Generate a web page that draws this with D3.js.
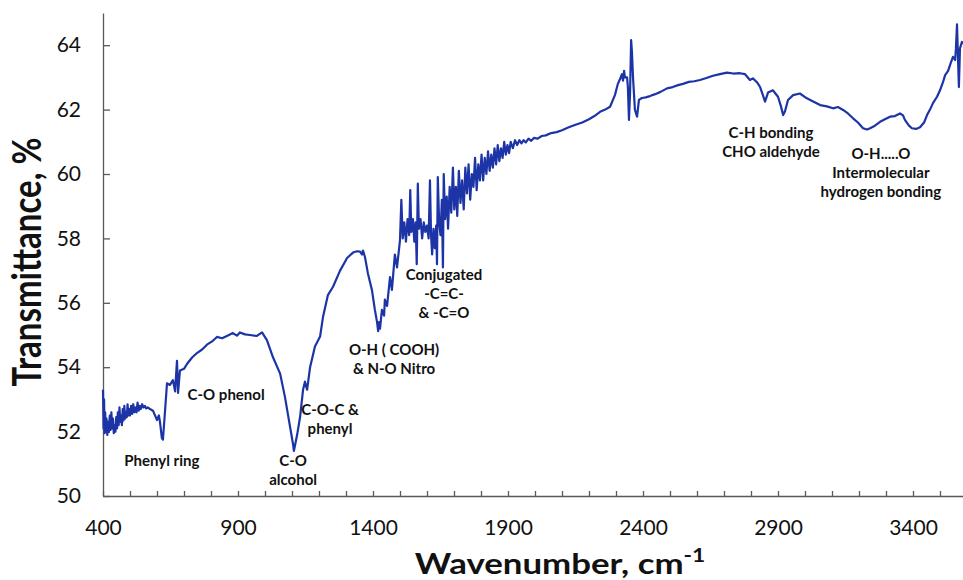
<!DOCTYPE html>
<html>
<head>
<meta charset="utf-8">
<script src="https://cdn.jsdelivr.net/npm/d3@7"></script>
<style>
  body { margin: 0; background: #fff; }
  svg { display: block; font-family: Lato, "Open Sans", sans-serif; }
  .axis path, .axis line { stroke: #595959; stroke-width: 1.3; }
  .axis text { font-size: 21px; fill: #111; font-family: Lato, sans-serif; }
  .note { font-size: 15px; font-weight: bold; fill: #111; }
  .title { font-weight: bold; fill: #111; }
</style>
</head>
<body>
<svg id="chart" width="963" height="580"></svg>
<script>
// FTIR spectrum
var wavenumber = [
  400, 402, 404, 406, 408, 410, 413, 416, 419, 422, 425, 428, 431, 434, 437, 440, 443, 446, 449, 452,
  455, 458, 461, 464, 467, 470, 473, 476, 479, 482, 485, 488, 491, 494, 497, 500, 504, 508, 512, 516,
  520, 524, 528, 532, 536, 540, 545, 550, 555, 560, 566, 574, 585, 600, 607, 611, 618, 622, 630, 637,
  648, 659, 667, 674, 678, 685, 700, 711, 730, 748, 767, 785, 804, 822, 841, 859, 881, 896, 907, 926,
  944, 970, 989, 1007, 1030, 1056, 1074, 1093, 1104, 1107, 1119, 1130, 1141, 1148, 1156, 1167, 1185, 1204, 1215, 1233,
  1252, 1278, 1304, 1326, 1341, 1352, 1359, 1363, 1370, 1381, 1396, 1407, 1415, 1419, 1422, 1426, 1433, 1441, 1444, 1452,
  1463, 1470, 1481, 1489, 1500, 1505, 1510, 1516, 1522, 1528, 1534, 1538, 1542, 1548, 1553, 1558, 1562, 1566, 1570, 1576,
  1582, 1588, 1594, 1600, 1606, 1611, 1615, 1619, 1624, 1629, 1634, 1637, 1640, 1645, 1650, 1655, 1659, 1662, 1667, 1673,
  1678, 1684, 1690, 1696, 1701, 1707, 1712, 1718, 1724, 1730, 1736, 1742, 1748, 1754, 1760, 1766, 1772, 1778, 1784, 1790,
  1796, 1802, 1808, 1814, 1820, 1826, 1832, 1838, 1844, 1850, 1856, 1862, 1868, 1874, 1880, 1886, 1892, 1898, 1904, 1910,
  1918, 1926, 1934, 1942, 1950, 1958, 1966, 1976, 1986, 1996, 2010, 2025, 2040, 2060, 2080, 2100, 2125, 2150, 2175, 2200,
  2220, 2241, 2260, 2278, 2296, 2307, 2315, 2322, 2326, 2330, 2333, 2341, 2344, 2348, 2352, 2356, 2359, 2363, 2370, 2378,
  2385, 2396, 2410, 2426, 2445, 2465, 2489, 2510, 2530, 2548, 2570, 2590, 2611, 2635, 2659, 2685, 2711, 2735, 2759, 2778,
  2796, 2807, 2822, 2833, 2844, 2852, 2863, 2881, 2900, 2911, 2919, 2926, 2937, 2956, 2981, 3007, 3030, 3056, 3081, 3104,
  3122, 3141, 3159, 3178, 3196, 3215, 3230, 3241, 3259, 3278, 3296, 3315, 3333, 3352, 3363, 3370, 3385, 3396, 3411, 3426,
  3441, 3452, 3463, 3474, 3489, 3500, 3511, 3519, 3530, 3537, 3548, 3556, 3559, 3563, 3567, 3570, 3574, 3581, 3589
];

var transmittance = [
  53.3, 52.1, 53.0, 51.95, 52.6, 52.0, 52.4, 51.9, 52.3, 52.0, 52.5, 52.05, 52.6, 52.1, 52.4, 51.95, 52.2, 52.0, 52.45, 52.1,
  52.6, 52.2, 52.75, 52.3, 52.5, 52.2, 52.7, 52.35, 52.8, 52.4, 52.6, 52.45, 52.85, 52.5, 52.7, 52.5, 52.8, 52.55, 52.85, 52.6,
  52.75, 52.6, 52.9, 52.65, 52.8, 52.7, 52.85, 52.75, 52.8, 52.72, 52.75, 52.7, 52.65, 52.36, 52.5, 52.3, 51.8, 51.75, 52.67, 53.5,
  53.45, 53.6, 53.25, 54.2, 53.2, 53.9, 53.95, 54.1, 54.3, 54.44, 54.55, 54.7, 54.8, 54.94, 54.9, 54.97, 55.06, 54.98, 55.08, 55.02,
  55.0, 54.97, 55.08, 54.84, 54.3, 53.8, 53.07, 52.14, 51.6, 51.4, 51.9, 52.46, 53.3, 53.55, 53.3, 54.0, 54.64, 54.95, 55.57, 56.24,
  56.5, 57.0, 57.39, 57.56, 57.6, 57.59, 57.5, 57.62, 57.43, 56.92, 56.4, 55.78, 55.4, 55.12, 55.4, 55.2, 55.78, 55.6, 56.1, 55.9,
  56.8, 56.4, 57.5, 57.1, 57.95, 59.2, 58.0, 58.5, 57.9, 58.6, 58.1, 59.5, 58.2, 58.6, 57.9, 58.5, 57.2, 59.7, 58.3, 58.6,
  58.0, 58.5, 58.2, 58.4, 58.0, 59.8, 58.1, 57.5, 58.3, 57.7, 58.4, 57.2, 59.9, 58.5, 58.1, 59.2, 57.1, 60.0, 58.6, 59.3,
  58.3, 59.6, 58.8, 60.2, 58.9, 59.6, 58.7, 60.1, 59.1, 59.8, 58.9, 60.2, 59.4, 60.3, 59.2, 60.0, 59.6, 60.5, 59.5, 60.3,
  59.8, 60.6, 59.8, 60.5, 60.0, 60.7, 60.1, 60.6, 60.2, 60.8, 60.3, 60.9, 60.4, 60.8, 60.5, 61.0, 60.6, 60.9, 60.65, 61.0,
  60.8, 61.05, 60.9, 61.05, 60.95, 61.05, 60.98, 61.1, 61.03, 61.12, 61.1, 61.18, 61.2, 61.27, 61.3, 61.36, 61.45, 61.53, 61.6, 61.7,
  61.8, 61.93, 62.0, 62.09, 62.45, 62.8, 62.95, 63.1, 62.9, 63.2, 63.0, 63.0, 62.7, 61.68, 62.5, 64.16, 63.8, 63.0, 62.0, 61.78,
  62.3, 62.36, 62.38, 62.42, 62.48, 62.55, 62.66, 62.7, 62.76, 62.8, 62.86, 62.88, 62.92, 62.98, 63.05, 63.1, 63.15, 63.12, 63.13, 63.1,
  62.92, 62.97, 62.85, 62.71, 62.45, 62.25, 62.53, 62.6, 62.4, 62.1, 61.83, 61.95, 62.3, 62.45, 62.5, 62.35, 62.25, 62.14, 62.1, 62.04,
  62.08, 61.99, 61.88, 61.73, 61.6, 61.42, 61.38, 61.42, 61.5, 61.62, 61.7, 61.78, 61.8, 61.88, 61.82, 61.68, 61.5, 61.42, 61.4, 61.45,
  61.6, 61.83, 62.0, 62.2, 62.4, 62.6, 62.85, 63.07, 63.2, 63.38, 63.64, 63.54, 63.9, 64.65, 63.5, 62.7, 63.9, 64.1, 64.05
];

var xTicks = d3.range(400, 3700, 100);
var xLabels = [400, 900, 1400, 1900, 2400, 2900, 3400];
var yTicks = [50, 52, 54, 56, 58, 60, 62, 64];

// band assignments, anchored at (wavenumber, transmittance) of first line
var notes = [
  { lines: ['Phenyl ring'], wn: 618, t: 50.93 },
  { lines: ['C-O phenol'], wn: 856, t: 52.98 },
  { lines: ['C-O', 'alcohol'], wn: 1104, t: 50.93 },
  { lines: ['C-O-C &', 'phenyl'], wn: 1241, t: 52.52 },
  { lines: ['O-H ( COOH)', '& N-O Nitro'], wn: 1478, t: 54.38 },
  { lines: ['Conjugated', '-C=C-', '& -C=O'], wn: 1663, t: 56.71 },
  { lines: ['C-H bonding', 'CHO aldehyde'], wn: 2874, t: 61.12 },
  { lines: ['O-H.....O', 'Intermolecular', 'hydrogen bonding'], wn: 3281, t: 60.47 }
];

var svg = d3.select('#chart');
var plotLeft = 103, plotBottom = 496, plotTop = 13;

var x = d3.scaleLinear().domain([400, 3600]).range([plotLeft, plotLeft + 3200 * 0.27]);
var y = d3.scaleLinear().domain([50, 65]).range([plotBottom, plotTop]);

svg.append('g')
  .attr('class', 'axis')
  .attr('transform', 'translate(0,' + plotBottom + ')')
  .call(d3.axisBottom(x)
    .tickValues(xTicks)
    .tickSizeInner(-5)
    .tickSizeOuter(0)
    .tickPadding(24)
    .tickFormat(function(d) { return xLabels.indexOf(d) > -1 ? d : ''; }));

svg.append('g')
  .attr('class', 'axis')
  .attr('transform', 'translate(' + plotLeft + ',0)')
  .call(d3.axisLeft(y)
    .tickValues(yTicks)
    .tickSizeInner(-7)
    .tickSizeOuter(0)
    .tickPadding(22));

var points = wavenumber.map(function(w, i) { return [w, transmittance[i]]; });

svg.append('path')
  .datum(points)
  .attr('fill', 'none')
  .attr('stroke', '#1d34a6')
  .attr('stroke-width', 2.2)
  .attr('stroke-linejoin', 'round')
  .attr('d', d3.line()
    .x(function(d) { return x(d[0]); })
    .y(function(d) { return y(d[1]); }));

notes.forEach(function(n) {
  var t = svg.append('text')
    .attr('class', 'note')
    .attr('text-anchor', 'middle')
    .attr('x', x(n.wn))
    .attr('y', y(n.t));
  n.lines.forEach(function(line, i) {
    t.append('tspan')
      .attr('x', x(n.wn))
      .attr('dy', i === 0 ? 0 : 19)
      .text(line);
  });
});

// the titles in the figure are a bit wider than tall, hence the x stretch
svg.append('text')
  .attr('class', 'title')
  .attr('transform', 'translate(41,262) scale(1.2,1) rotate(-90)')
  .attr('text-anchor', 'middle')
  .style('font-size', '33px')
  .text('Transmittance, %');

var xt = svg.append('text')
  .attr('class', 'title')
  .attr('transform', 'translate(560,574) scale(1.2,1)')
  .attr('text-anchor', 'middle')
  .style('font-size', '29px');
xt.append('tspan').text('Wavenumber, cm');
xt.append('tspan').attr('dy', -12).style('font-size', '19px').text('-1');
</script>
</body>
</html>
